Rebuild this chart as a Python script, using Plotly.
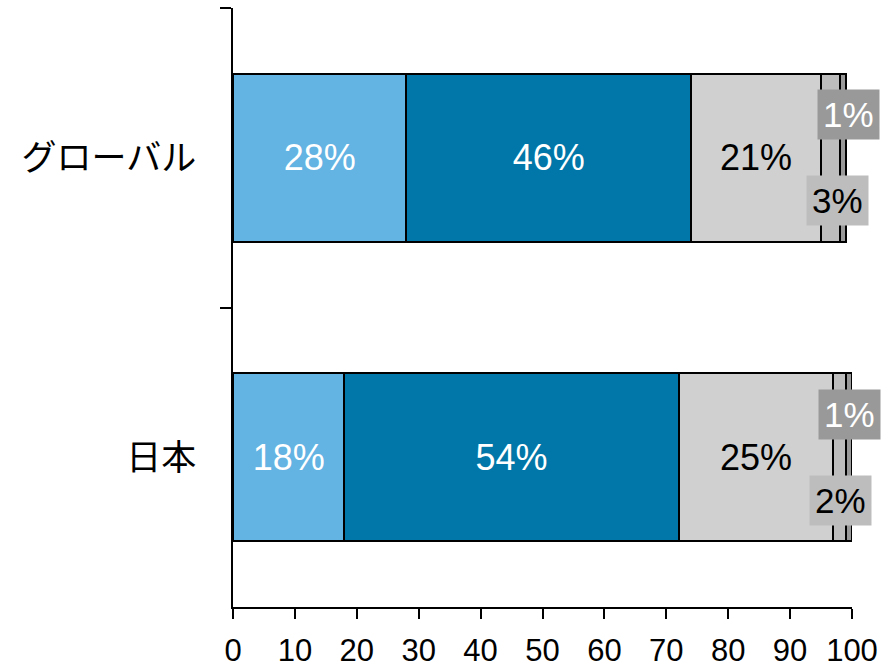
import plotly.graph_objects as go

# Regions, top to bottom
regions = ["グローバル", "日本"]

# Share of each response group (%)
seg1 = [28, 18]
seg2 = [46, 54]
seg3 = [21, 25]
seg4 = [3, 2]
seg5 = [1, 1]

x_ticks = [0, 10, 20, 30, 40, 50, 60, 70, 80, 90, 100]

colors = ["#63b3e3", "#0077a8", "#d0d0d0", "#bdbdbd", "#999999"]
text_colors = ["white", "white", "black", "black", "white"]
series = [seg1, seg2, seg3, seg4, seg5]

FONT = "Liberation Sans, Arial, Noto Sans CJK JP, sans-serif"

fig = go.Figure()
for i, (vals, col) in enumerate(zip(series, colors)):
    inside = i < 3
    fig.add_trace(go.Bar(
        y=regions,
        x=vals,
        orientation="h",
        marker=dict(color=col, line=dict(color="black", width=2)),
        text=[f"{v}%" for v in vals] if inside else None,
        textposition="inside" if inside else "none",
        insidetextanchor="middle",
        textfont=dict(color=text_colors[i], size=36, family=FONT),
        width=0.56,
        hoverinfo="skip",
        showlegend=False,
    ))

# Boxed labels for the two narrow segments at the end of each bar
for r, region in enumerate(regions):
    start4 = seg1[r] + seg2[r] + seg3[r]
    start5 = start4 + seg4[r]
    fig.add_annotation(
        x=start5 + seg5[r] / 2, y=region, xref="x", yref="y",
        text=f"{seg5[r]}%", showarrow=False,
        font=dict(color="white", size=35, family=FONT),
        bgcolor="#999999", borderpad=5,
        xshift=6 if r == 0 else 1, yshift=43,
    )
    fig.add_annotation(
        x=start4 + seg4[r] / 2, y=region, xref="x", yref="y",
        text=f"{seg4[r]}%", showarrow=False,
        font=dict(color="black", size=35, family=FONT),
        bgcolor="#bdbdbd", borderpad=5,
        xshift=7 if r == 0 else 1, yshift=-43,
    )

fig.update_layout(
    barmode="stack",
    width=892, height=668,
    margin=dict(l=233, r=40, t=8, b=61),
    plot_bgcolor="white",
    paper_bgcolor="white",
    font=dict(family=FONT, color="black"),
    xaxis=dict(
        range=[0, 100],
        tickvals=x_ticks,
        ticktext=[str(t) for t in x_ticks],
        ticks="outside", ticklen=10, tickwidth=1.5, tickcolor="black",
        showline=True, linecolor="black", linewidth=1.5,
        showgrid=False, zeroline=False,
        tickfont=dict(size=31, family=FONT),
        ticklabelstandoff=5,
        automargin=False,
    ),
    yaxis=dict(
        categoryorder="array", categoryarray=regions,
        autorange="reversed",
        range=[1.5, -0.5],
        tickson="boundaries",
        ticks="outside", ticklen=11, tickwidth=1.5, tickcolor="black",
        showline=True, linecolor="black", linewidth=1.5,
        showgrid=False, zeroline=False,
        tickfont=dict(size=35, family="Noto Sans CJK JP, sans-serif"),
        ticklabelstandoff=28,
        automargin=False,
    ),
)

fig.write_html("out.html")
